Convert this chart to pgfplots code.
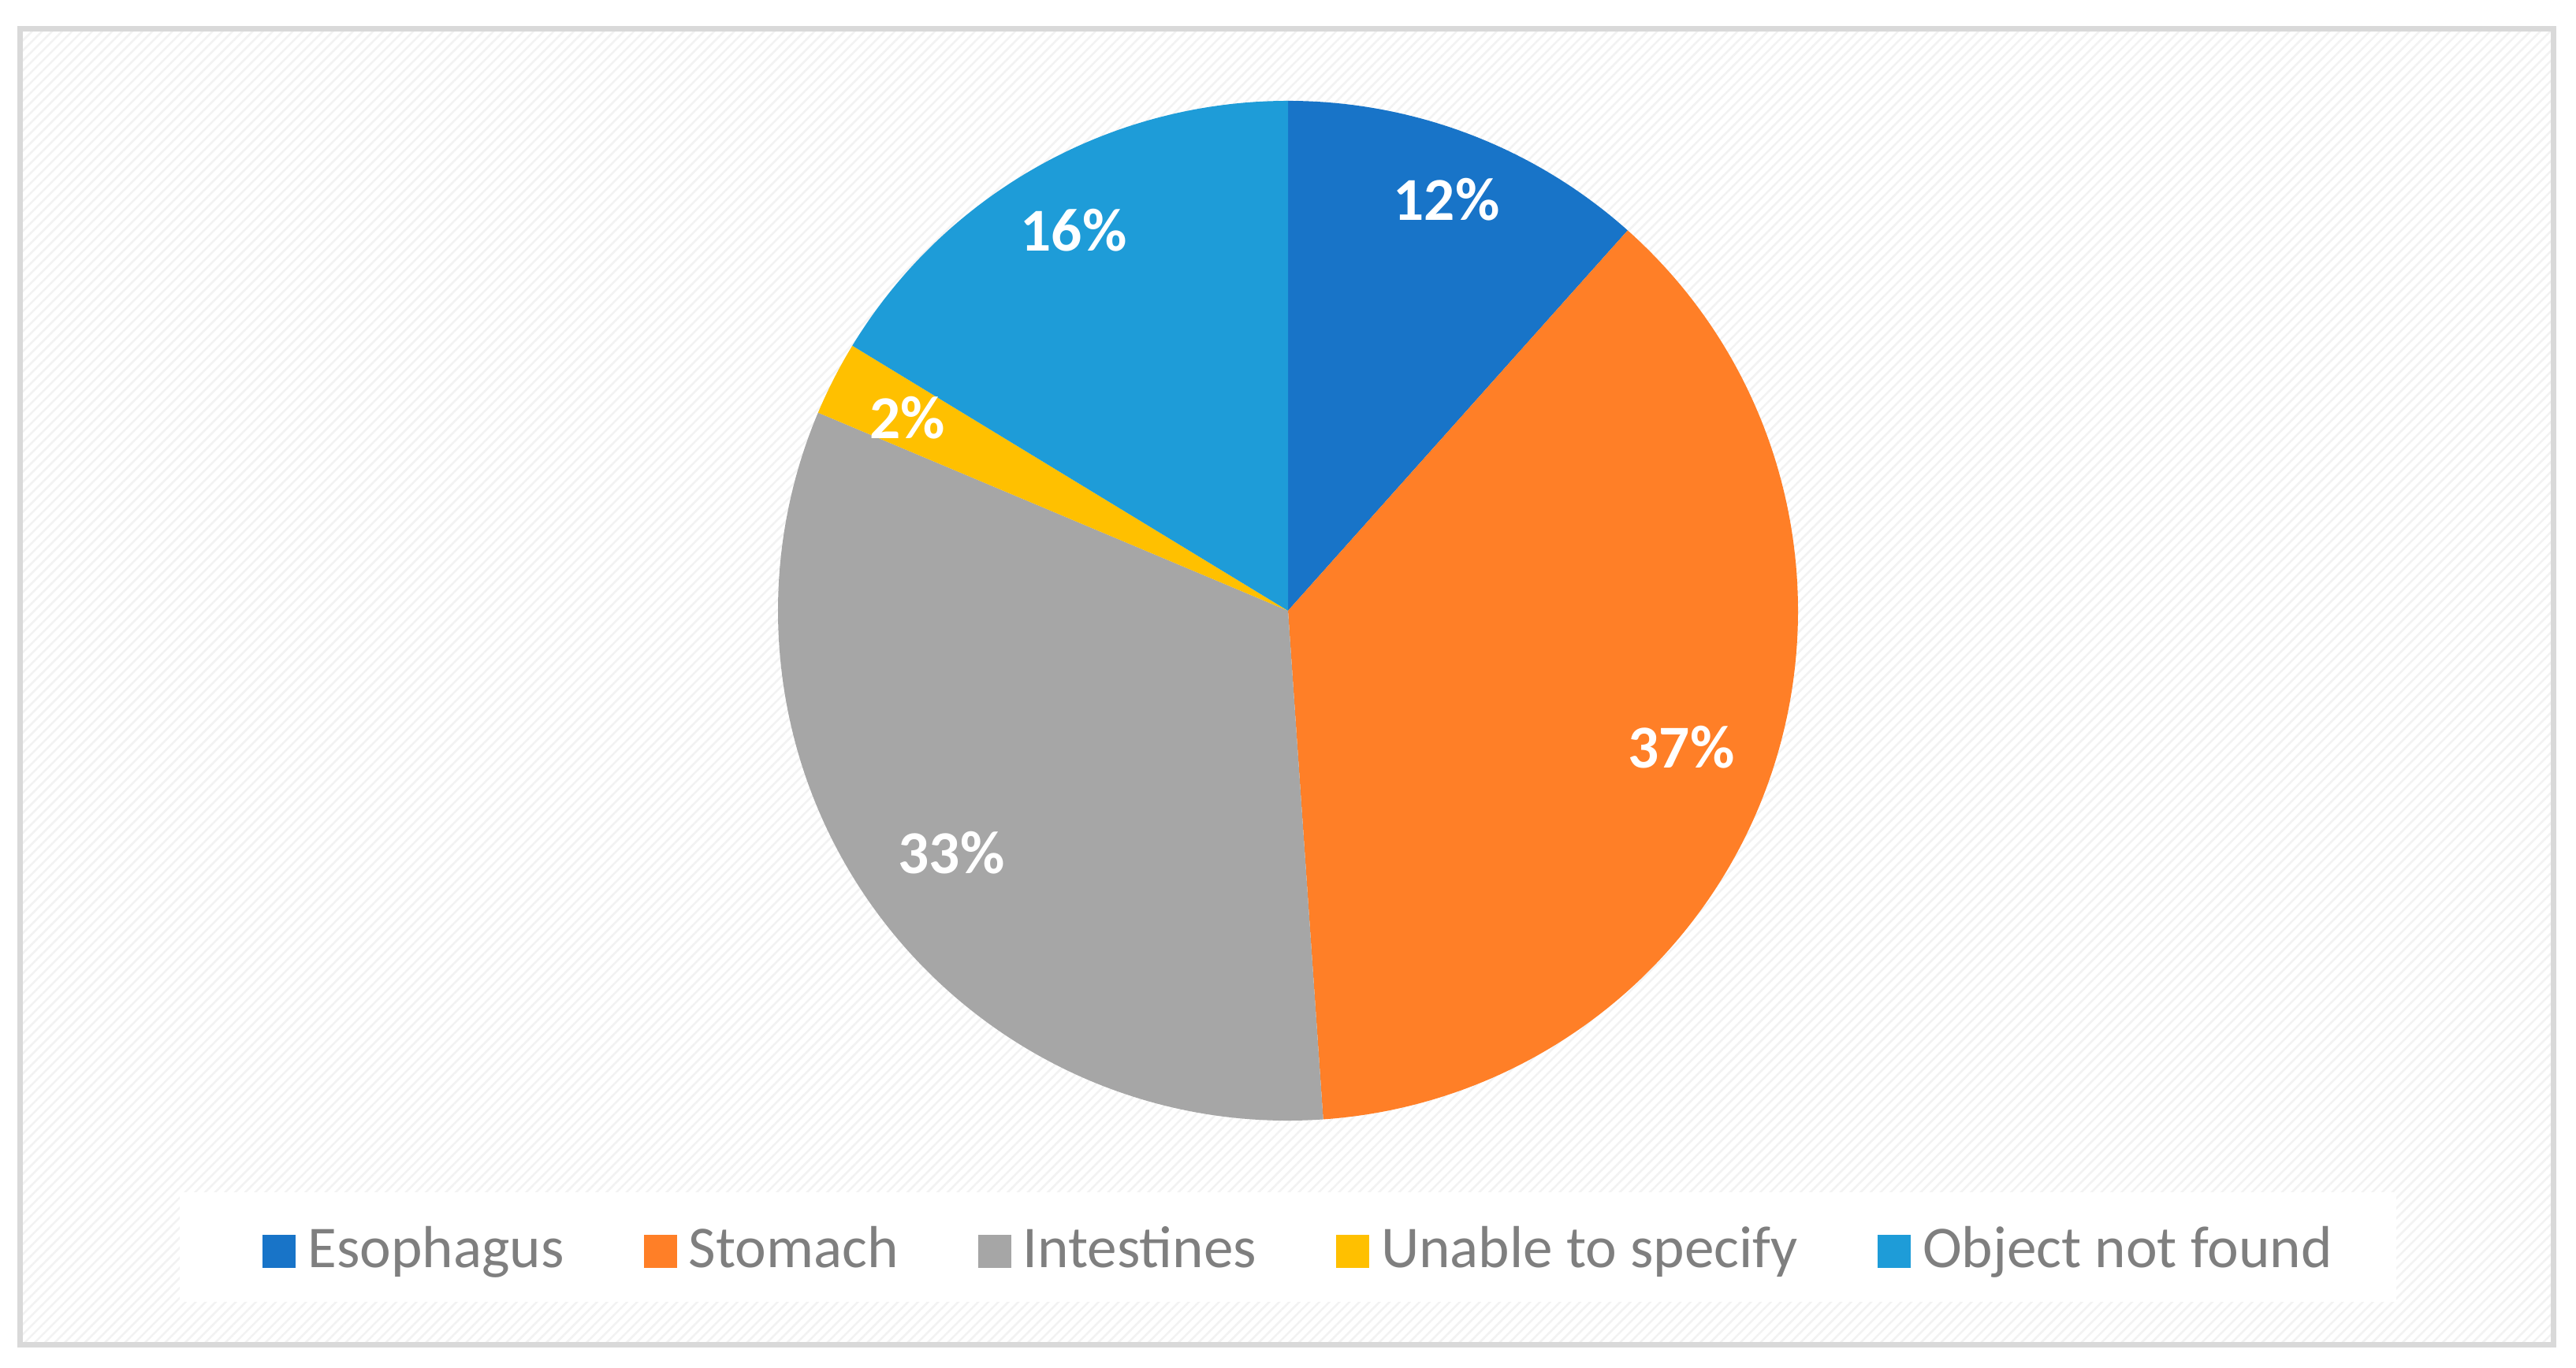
\documentclass[border=0pt]{standalone}
\usepackage{pgfplots}
\usepackage{pgfplotstable}
\pgfplotsset{compat=1.18}
\usetikzlibrary{patterns.meta}
\usepackage{fontspec}
\setmainfont{Carlito}

\definecolor{cEso}{HTML}{1874C8}
\definecolor{cSto}{HTML}{FF7F27}
\definecolor{cInt}{HTML}{A6A6A6}
\definecolor{cUna}{HTML}{FFC000}
\definecolor{cObj}{HTML}{1E9CD8}
\definecolor{frame}{HTML}{D9D9D9}
\definecolor{legtext}{HTML}{7F7F7F}

% shares in percent, clockwise from 12 o'clock
\pgfplotstableread{
name val col
Esophagus 11.6 cEso
Stomach 37.3 cSto
Intestines 32.45 cInt
Unable 2.35 cUna
Object 16.3 cObj
}\piedata

\begin{document}
\begin{tikzpicture}
\begin{axis}[
    x=0.05mm, y=0.05mm,
    xmin=0, xmax=3268, ymin=0, ymax=1735,
    hide axis, clip=false,
    legend columns=-1,
    legend image code/.code={\fill[#1, draw=none] (0mm,-1.05mm) rectangle (2.1mm,1.05mm);},
    legend style={at={(axis cs:332,147)}, anchor=west,
      draw=none, fill=none, inner sep=0pt,
      nodes={inner sep=0pt},
      font=\fontsize{10.7}{12}\selectfont, text=legtext,
      /tikz/every odd column/.append style={column sep=0.75mm},
      /tikz/every even column/.append style={column sep=5.05mm}},
  ]
  % page and chart area
  \fill[white] (axis cs:0,0) rectangle (axis cs:3268,1735);
  \fill[white] (axis cs:25,29) rectangle (axis cs:3239,1698);
  \fill[pattern={Lines[angle=45, distance=0.45mm, line width=0.12mm]}, pattern color=black!5]
    (axis cs:25,29) rectangle (axis cs:3239,1698);
  \draw[frame, line width=0.35mm] (axis cs:25,29) rectangle (axis cs:3239,1698);
  % legend area
  \fill[white] (axis cs:228,83) rectangle (axis cs:3040,222);

  % pie slices
  \xdef\angstart{90}
  \pgfplotsforeachungrouped \i in {0,...,4}{%
    \pgfplotstablegetelem{\i}{val}\of\piedata \let\val\pgfplotsretval
    \pgfplotstablegetelem{\i}{col}\of\piedata \let\col\pgfplotsretval
    \pgfmathsetmacro\angend{\angstart-3.6*\val}
    \edef\temp{\noexpand\fill[\col] (axis cs:1634,960) -- ++(\angstart:32.35mm)
      arc[start angle=\angstart, end angle=\angend, radius=32.35mm] -- cycle;}
    \temp
    \xdef\angstart{\angend}
  }

  % data labels
  \begin{scope}[every node/.style={text=white, font=\bfseries\fontsize{11}{13}\selectfont}]
    \node at (axis cs:1835,1482) {12\%};
    \node at (axis cs:2133,787) {37\%};
    \node at (axis cs:1207,653) {33\%};
    \node at (axis cs:1151,1205) {2\%};
    \node at (axis cs:1362,1443) {16\%};
  \end{scope}

  \addlegendimage{fill=cEso}\addlegendentry{Esophagus}
  \addlegendimage{fill=cSto}\addlegendentry{Stomach}
  \addlegendimage{fill=cInt}\addlegendentry{Intestines}
  \addlegendimage{fill=cUna}\addlegendentry{Unable to specify}
  \addlegendimage{fill=cObj}\addlegendentry{Object not found}
\end{axis}
\end{tikzpicture}
\end{document}
